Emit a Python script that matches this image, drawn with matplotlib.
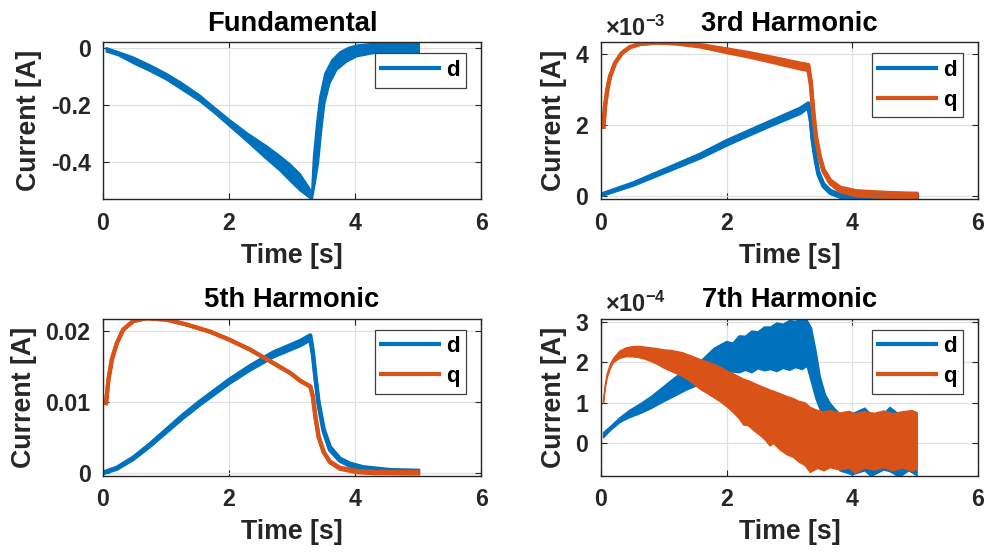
import numpy as np
import matplotlib.pyplot as plt
from matplotlib.lines import Line2D

plt.rcParams['font.family'] = ['Liberation Sans', 'DejaVu Sans']
plt.rcParams['font.weight'] = 'bold'
plt.rcParams['axes.unicode_minus'] = False
plt.rcParams['mathtext.default'] = 'regular'

blue = '#0072BD'
orange = '#D95319'
ink = '#262626'

x_ticks = [0, 2, 4, 6]

# Fundamental d current [A]: outer edges of the ripple band
fund_up_t = [0.05, 0.25, 0.48, 0.75, 1.01, 1.25, 1.54, 1.75, 2.0, 2.3, 2.6, 2.8, 2.97, 3.13, 3.28, 3.31,
             3.34, 3.39, 3.44, 3.52, 3.63, 3.76, 3.9, 4.03, 4.3, 4.6, 5.02]
fund_up = [0.003, -0.012, -0.03, -0.058, -0.088, -0.12, -0.164, -0.203, -0.248, -0.298, -0.342, -0.375, -0.405,
           -0.44, -0.49, -0.51, -0.38, -0.263, -0.17, -0.088, -0.041, -0.012, 0.004, 0.012, 0.018, 0.02, 0.018]
fund_dn_t = [0.05, 0.25, 0.48, 0.75, 1.01, 1.25, 1.54, 1.75, 2.0, 2.3, 2.6, 2.8, 2.97, 3.13, 3.28, 3.32,
             3.37, 3.42, 3.47, 3.52, 3.60, 3.71, 3.87, 4.03, 4.29, 4.6, 5.02]
fund_dn = [-0.012, -0.026, -0.053, -0.081, -0.111, -0.145, -0.187, -0.224, -0.272, -0.33, -0.39, -0.428, -0.466,
           -0.5, -0.525, -0.53, -0.47, -0.40, -0.287, -0.193, -0.123, -0.076, -0.047, -0.029, -0.018, -0.016, -0.016]

# 3rd harmonic [x1e-3 A]: trace centre and ripple half-width
t3_d = [0.04, 0.51, 1.04, 1.58, 2.0, 2.64, 3.17, 3.30, 3.34, 3.37, 3.41, 3.46, 3.54, 3.65, 3.81, 3.96, 4.34, 5.03]
d3 = [0.06, 0.34, 0.73, 1.13, 1.50, 2.0, 2.40, 2.56, 2.14, 1.58, 1.11, 0.64, 0.31, 0.12, 0.01, -0.04, -0.02, 0.0]
d3_rip = [0.01, 0.02, 0.03, 0.04, 0.05, 0.05, 0.06, 0.05, 0.04, 0.03, 0.03, 0.03, 0.03, 0.03, 0.03, 0.03, 0.04, 0.04]
t3_q = [0.04, 0.064, 0.1, 0.143, 0.223, 0.33, 0.46, 0.62, 0.89, 1.2, 1.58, 2.0, 2.37, 2.74, 3.17, 3.30,
        3.34, 3.38, 3.42, 3.48, 3.54, 3.65, 3.81, 4.07, 4.6, 5.02]
q3 = [1.95, 2.52, 2.99, 3.36, 3.74, 4.02, 4.19, 4.28, 4.32, 4.30, 4.23, 4.09, 3.97, 3.83, 3.66, 3.62,
      3.17, 2.33, 1.67, 1.11, 0.73, 0.40, 0.19, 0.08, 0.03, 0.01]
q3_rip = [0.0, 0.0, 0.0, 0.0, 0.0, 0.0, 0.0, 0.0, 0.0, 0.01, 0.02, 0.04, 0.05, 0.06, 0.07, 0.07,
          0.05, 0.04, 0.03, 0.03, 0.03, 0.04, 0.05, 0.06, 0.06, 0.06]

# 5th harmonic [x1e-3 A]
t5_d = [0.03, 0.22, 0.48, 0.75, 1.01, 1.27, 1.54, 2.0, 2.33, 2.70, 3.13, 3.29, 3.33, 3.37, 3.42, 3.50,
        3.60, 3.76, 3.92, 4.13, 4.56, 5.0]
d5 = [0.14, 0.7, 2.1, 4.0, 6.0, 8.0, 9.9, 12.9, 14.8, 16.7, 18.3, 19.1, 16.9, 13.6, 9.9, 6.1,
      3.5, 1.9, 1.2, 0.7, 0.3, 0.2]
d5_rip = [0.05, 0.08, 0.1, 0.12, 0.15, 0.18, 0.2, 0.22, 0.25, 0.28, 0.3, 0.3, 0.25, 0.2, 0.2, 0.2,
          0.2, 0.15, 0.15, 0.15, 0.15, 0.15]
t5_q = [0.048, 0.085, 0.14, 0.22, 0.32, 0.48, 0.69, 1.01, 1.33, 1.70, 2.0, 2.33, 2.70, 2.97, 3.13, 3.29,
        3.33, 3.37, 3.42, 3.50, 3.60, 3.76, 4.03, 4.29, 5.0]
q5 = [9.86, 13.1, 16.0, 18.3, 20.2, 21.4, 21.8, 21.6, 20.9, 19.9, 18.8, 17.4, 15.5, 14.1, 13.0, 12.2,
      10.8, 8.0, 5.2, 3.0, 1.6, 0.7, 0.23, 0.1, 0.05]
q5_rip = [0.0] * 20 + [0.05, 0.08, 0.1, 0.1, 0.1]

# 7th harmonic [x1e-4 A]: outer edges of the noisy bands
t7_d = [0.04, 0.15, 0.30, 0.45, 0.62, 0.8, 1.0, 1.2, 1.36, 1.5, 1.6, 1.8, 2.0, 2.1, 2.2, 2.3, 2.4, 2.5,
        2.6, 2.7, 2.8, 2.9, 3.0, 3.1, 3.2, 3.28, 3.35, 3.42, 3.49, 3.57, 3.65, 3.72, 3.8, 4.0, 4.2, 4.3,
        4.5, 4.6, 4.75, 4.9, 5.03]
d7_up = [0.25, 0.40, 0.62, 0.80, 0.96, 1.15, 1.40, 1.65, 1.81, 1.95, 2.05, 2.35, 2.52, 2.48, 2.66, 2.65,
         2.78, 2.76, 2.88, 2.88, 2.98, 2.95, 3.04, 3.02, 3.12, 3.05, 2.85, 2.3, 1.64, 1.2, 0.98, 0.85, 0.72,
         0.72, 0.86, 0.7, 0.72, 0.88, 0.7, 0.75, 0.72]
d7_dn = [0.12, 0.30, 0.50, 0.62, 0.72, 0.85, 1.02, 1.18, 1.31, 1.40, 1.45, 1.62, 1.73, 1.76, 1.74, 1.80,
         1.74, 1.84, 1.79, 1.82, 1.77, 1.85, 1.80, 1.87, 1.82, 1.90, 1.5, 1.1, 0.81, 0.7, 0.55, 0.0, -0.7,
         -0.8, -0.7, -0.84, -0.68, -0.72, -0.86, -0.7, -0.82]
t7_q = [0.04, 0.07, 0.1, 0.15, 0.2, 0.3, 0.4, 0.5, 0.6, 0.7, 0.8, 0.9, 1.0, 1.1, 1.2, 1.3, 1.4, 1.5, 1.6,
        1.7, 1.8, 1.9, 2.0, 2.1, 2.2, 2.27, 2.35, 2.45, 2.55, 2.62, 2.69, 2.75, 2.85, 2.96, 3.06, 3.15,
        3.25, 3.33, 3.45, 3.55, 3.65, 3.8, 3.95, 4.05, 4.2, 4.35, 4.5, 4.65, 4.8, 4.95, 5.03]
q7_up = [1.06, 1.45, 1.72, 1.95, 2.10, 2.28, 2.36, 2.39, 2.40, 2.38, 2.36, 2.34, 2.31, 2.30, 2.27, 2.24,
         2.18, 2.12, 2.06, 2.01, 1.95, 1.88, 1.79, 1.72, 1.64, 1.58, 1.54, 1.47, 1.40, 1.36, 1.31, 1.28,
         1.22, 1.15, 1.10, 1.03, 0.99, 0.88, 0.80, 0.77, 0.80, 0.74, 0.78, 0.72, 0.77, 0.73, 0.79, 0.72,
         0.77, 0.80, 0.75]
q7_dn = [0.98, 1.37, 1.62, 1.85, 2.00, 2.10, 2.14, 2.14, 2.12, 2.08, 2.02, 1.95, 1.86, 1.79, 1.72, 1.65,
         1.55, 1.43, 1.31, 1.22, 1.12, 1.02, 0.90, 0.76, 0.60, 0.44, 0.42, 0.28, 0.16, 0.06, -0.08, -0.02,
         -0.18, -0.30, -0.36, -0.48, -0.57, -0.74, -0.64, -0.70, -0.62, -0.68, -0.63, -0.76, -0.63, -0.68,
         -0.62, -0.70, -0.63, -0.71, -0.66]


def band(ax, t_up, up, t_dn, dn, color, scale=1.0):
    xs = np.concatenate([t_up, t_dn[::-1]])
    ys = np.concatenate([up, dn[::-1]]) * scale
    ax.fill(xs, ys, color=color, lw=1.0, joinstyle='round')


def trace(ax, t, mid, rip, color, scale=1.0):
    mid = np.asarray(mid)
    rip = np.asarray(rip)
    ax.fill_between(t, (mid - rip) * scale, (mid + rip) * scale, color=color, lw=0)
    ax.plot(t, (mid - rip) * scale, color=color, lw=3.0)
    ax.plot(t, (mid + rip) * scale, color=color, lw=3.0)


def style(ax, title, ylim, yticks, ylabels, names, exponent=None):
    ax.set_xlim(0, 6)
    ax.set_ylim(*ylim)
    ax.set_xticks(x_ticks)
    ax.set_yticks(yticks)
    ax.set_yticklabels(ylabels)
    ax.set_axisbelow(True)
    ax.grid(True, color='#E0E0E0', lw=0.9)
    ax.tick_params(direction='in', length=4, width=0.8, top=True, right=True,
                   labelsize=16.7, colors=ink, pad=9)
    for s in ax.spines.values():
        s.set_color(ink)
        s.set_linewidth(1.0)
    ax.set_title(title, fontsize=19.7, fontweight='bold', pad=8)
    ax.set_xlabel('Time [s]', fontsize=19.3, fontweight='bold', color=ink, labelpad=6)
    ax.set_ylabel('Current [A]', fontsize=19.3, fontweight='bold', color=ink, labelpad=6)
    if exponent is not None:
        ax.text(0.01, 1.043, '×10$^{' + exponent + '}$', transform=ax.transAxes,
                ha='left', va='baseline', fontsize=17, color=ink)
    handles = [Line2D([], [], color=c, lw=3) for c in (blue, orange)][:len(names)]
    leg = ax.legend(handles, names, loc='upper right', bbox_to_anchor=(0.96, 0.93),
                    borderaxespad=0, fontsize=16, fancybox=False, framealpha=1,
                    edgecolor='#404040', handlelength=2.6, handletextpad=0.3,
                    borderpad=0.3, labelspacing=0.4)
    leg.get_frame().set_linewidth(0.9)


fig = plt.figure(figsize=(9.87, 5.55), dpi=100)
ax1 = fig.add_axes([0.1044, 0.641, 0.383, 0.283])
ax2 = fig.add_axes([0.6089, 0.641, 0.382, 0.283])
ax3 = fig.add_axes([0.1044, 0.143, 0.383, 0.283])
ax4 = fig.add_axes([0.6089, 0.143, 0.382, 0.283])

band(ax1, np.array(fund_up_t), np.array(fund_up), np.array(fund_dn_t), np.array(fund_dn), blue)
style(ax1, 'Fundamental', (-0.529, 0.022), [-0.4, -0.2, 0], ['-0.4', '-0.2', '0'], ['d'])

trace(ax2, t3_d, d3, d3_rip, blue, 1e-3)
trace(ax2, t3_q, q3, q3_rip, orange, 1e-3)
style(ax2, '3rd Harmonic', (-0.085e-3, 4.33e-3), [0, 2e-3, 4e-3], ['0', '2', '4'], ['d', 'q'], '-3')

trace(ax3, t5_d, d5, d5_rip, blue, 1e-3)
trace(ax3, t5_q, q5, q5_rip, orange, 1e-3)
style(ax3, '5th Harmonic', (-0.00034, 0.02175), [0, 0.01, 0.02], ['0', '0.01', '0.02'], ['d', 'q'])

band(ax4, np.array(t7_d), np.array(d7_up), np.array(t7_d), np.array(d7_dn), blue, 1e-4)
band(ax4, np.array(t7_q), np.array(q7_up), np.array(t7_q), np.array(q7_dn), orange, 1e-4)
style(ax4, '7th Harmonic', (-0.82e-4, 3.09e-4), [0, 1e-4, 2e-4, 3e-4], ['0', '1', '2', '3'], ['d', 'q'], '-4')

fig.savefig('out.png', dpi=100)
